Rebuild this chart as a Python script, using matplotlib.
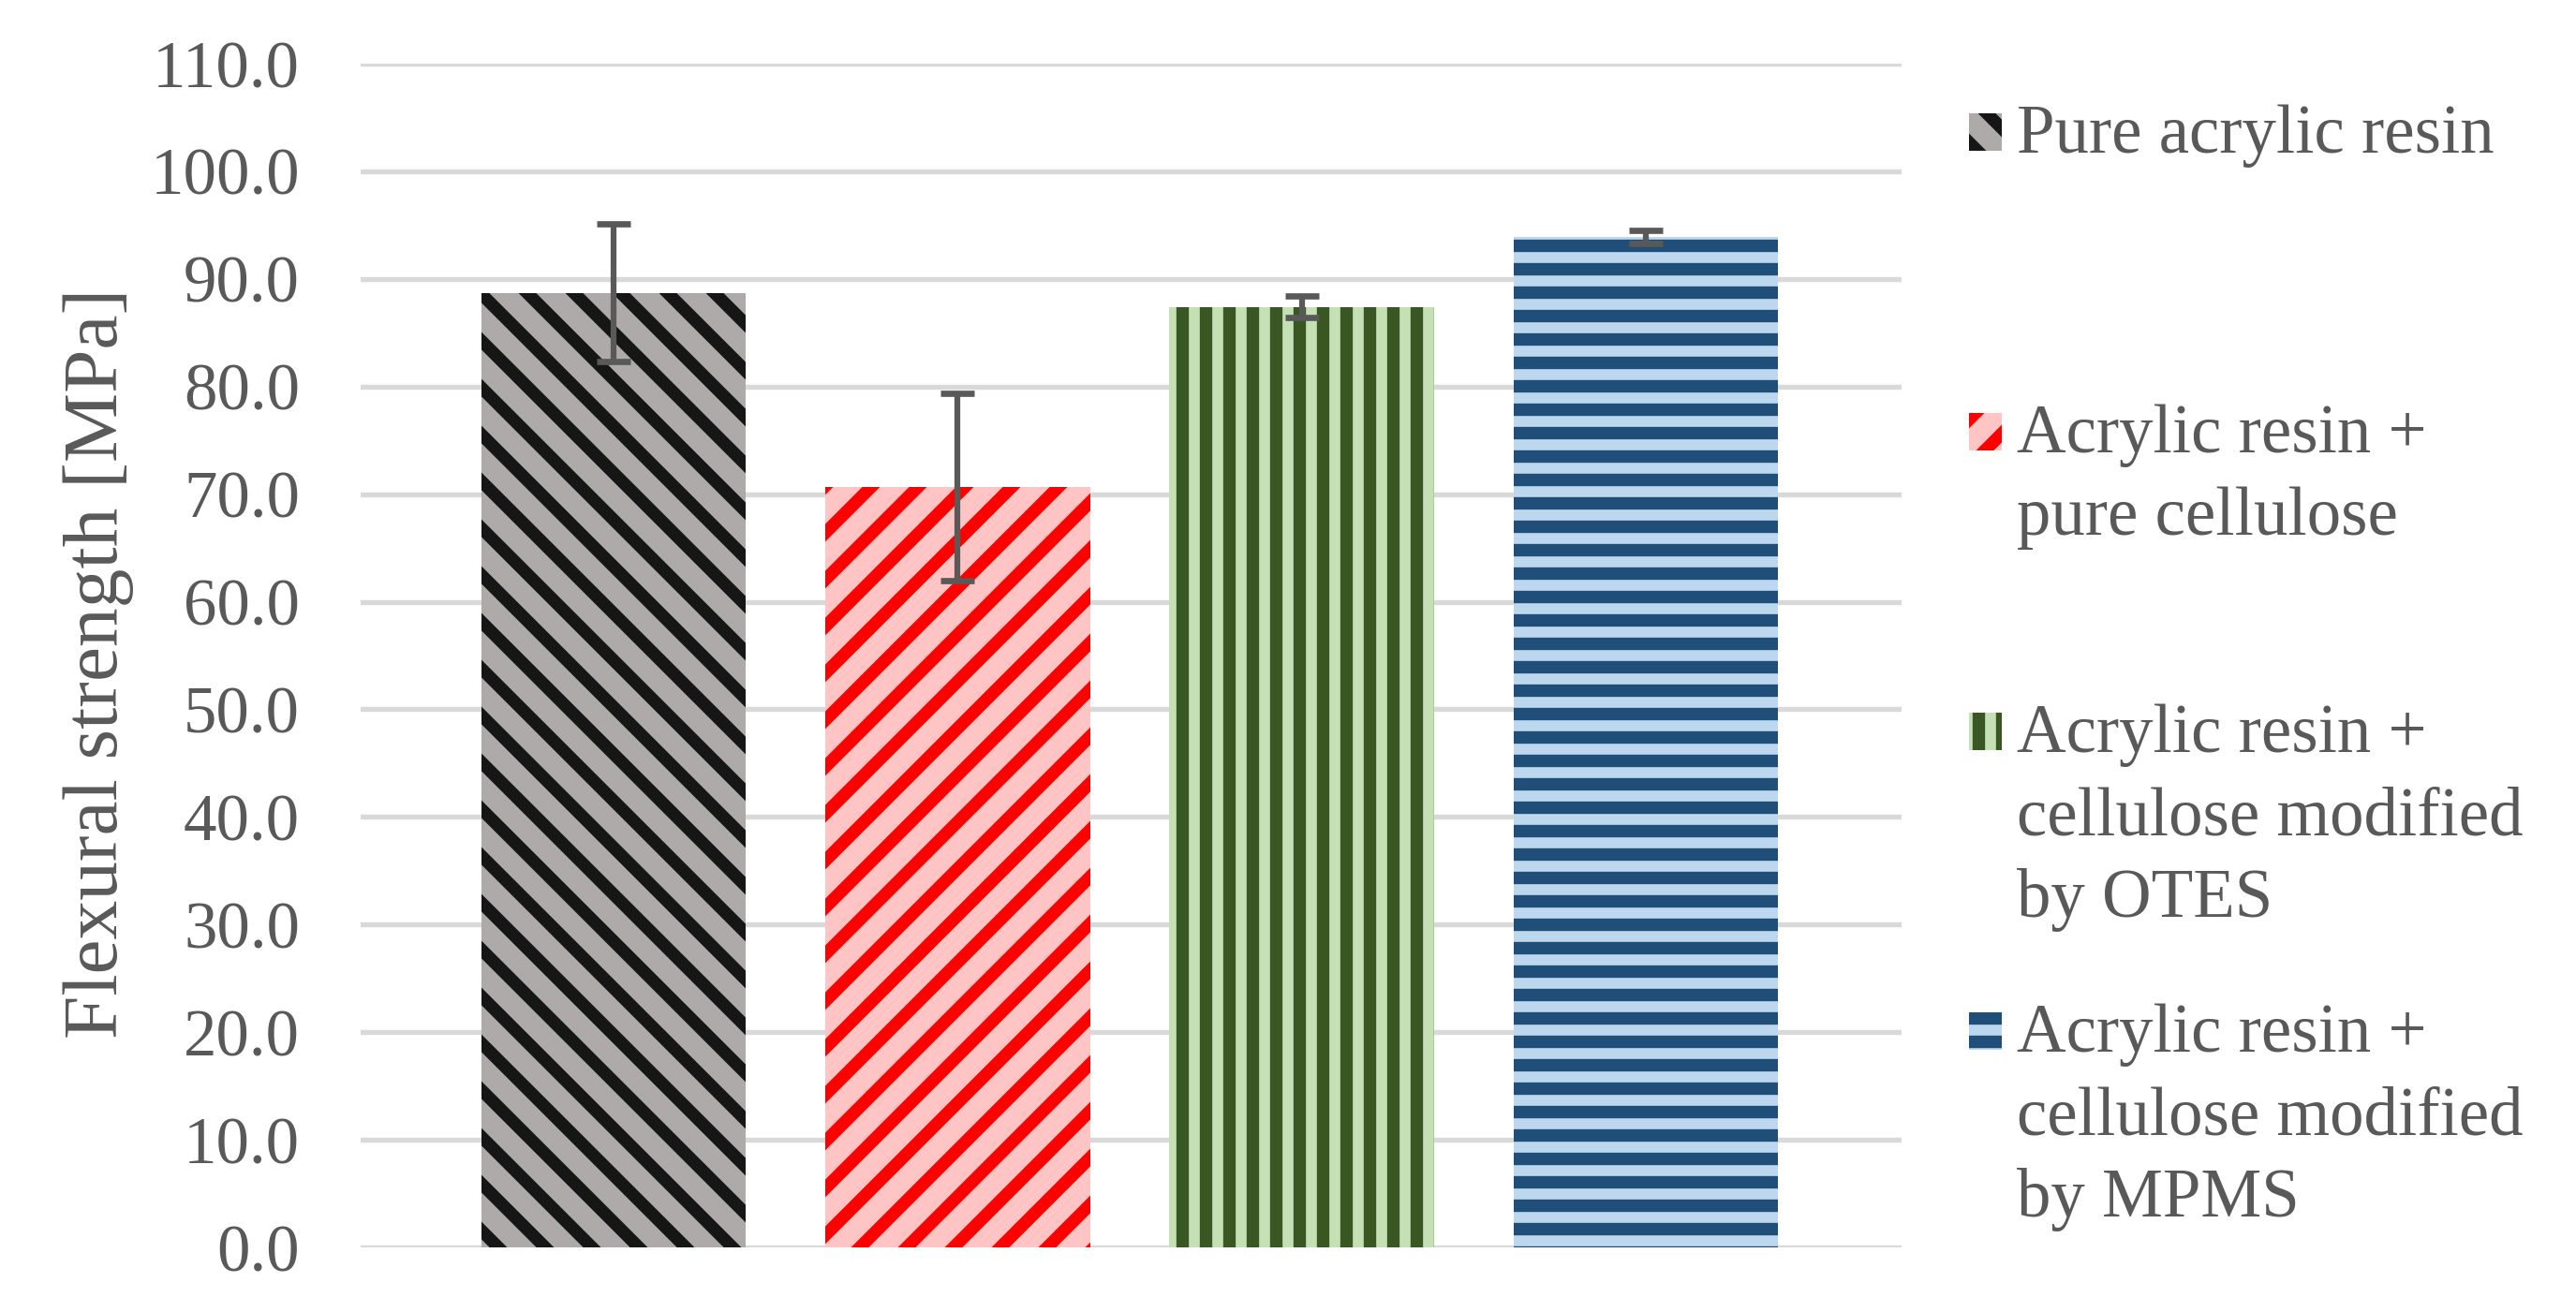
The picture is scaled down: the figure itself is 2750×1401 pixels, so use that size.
import matplotlib
matplotlib.use("Agg")
import matplotlib.pyplot as plt
from matplotlib.patches import Rectangle
import numpy as np

# ---------------- data ----------------
categories = [
    "Pure acrylic resin",
    "Acrylic resin +\npure cellulose",
    "Acrylic resin +\ncellulose modified\nby OTES",
    "Acrylic resin +\ncellulose modified\nby MPMS",
]
strength = [88.7, 70.7, 87.4, 93.9]
strength_err = [6.4, 8.7, 1.0, 0.6]
yticks = [0, 10, 20, 30, 40, 50, 60, 70, 80, 90, 100, 110]
ylabel = "Flexural strength [MPa]"

# ---------------- style ----------------
face_colors = ["#AEAAAA", "#FFC4C4", "#C5E0B4", "#BDD7EE"]
hatch_colors = ["#161616", "#FF0000", "#385723", "#1F4E79"]
hatches = ["\\\\", "//", "||", "--"]
text_color = "#595959"
grid_color = "#D9D9D9"

W, H, DPI = 2750, 1401, 300
plt.rcParams["font.family"] = ["Liberation Serif", "DejaVu Serif"]
plt.rcParams["hatch.linewidth"] = 3.2

fig = plt.figure(figsize=((W + 0.01) / DPI, (H + 0.01) / DPI), dpi=DPI)
ax_left, ax_right = 385 / W, 2030 / W
ax_bottom, ax_top = 1 - 1332 / H, 1 - 68 / H
ax = fig.add_axes([ax_left, ax_bottom, ax_right - ax_left, ax_top - ax_bottom])

x = np.arange(len(categories))
bars = ax.bar(x, strength, width=0.77, color=face_colors, edgecolor=hatch_colors,
              linewidth=0, zorder=2)
for b, h in zip(bars, hatches):
    b.set_hatch(h)

ax.errorbar(x, strength, yerr=strength_err, fmt="none", ecolor="#595959",
            elinewidth=1.5, capsize=4.3, capthick=1.6, zorder=3)

ax.set_ylim(0, 110)
ax.set_xlim(-0.735, 3.743)
ax.set_yticks(yticks)
ax.set_yticklabels([f"{v:.1f}" for v in yticks])
ax.set_xticks([])
ax.tick_params(axis="y", length=0, pad=15.6, labelsize=17, labelcolor=text_color)
for s in ax.spines.values():
    s.set_visible(False)
ax.yaxis.grid(True, color=grid_color, linewidth=1.3, zorder=0)
ax.set_axisbelow(True)

ax.set_ylabel(ylabel, fontsize=20, color=text_color)
ax.yaxis.set_label_coords(-0.1471, 0.4937)

# ---------------- legend (manual, first-line aligned) ----------------
first_baseline = 163
entry_step = 320
line_step = 88
marker_x0, marker_w, marker_h = 2102, 35, 40
text_x = 2153
for i, lab in enumerate(categories):
    base = first_baseline + entry_step * i
    rect = Rectangle((marker_x0 / W, 1 - (base - 2) / H), marker_w / W, marker_h / H,
                     transform=fig.transFigure, facecolor=face_colors[i],
                     edgecolor=hatch_colors[i], linewidth=0, hatch=hatches[i])
    fig.add_artist(rect)
    for k, line in enumerate(lab.split("\n")):
        fig.text(text_x / W, 1 - (base + k * line_step) / H, line, fontsize=17.5,
                 color=text_color, ha="left", va="baseline")

fig.savefig("out.png", dpi=DPI, facecolor="white")
